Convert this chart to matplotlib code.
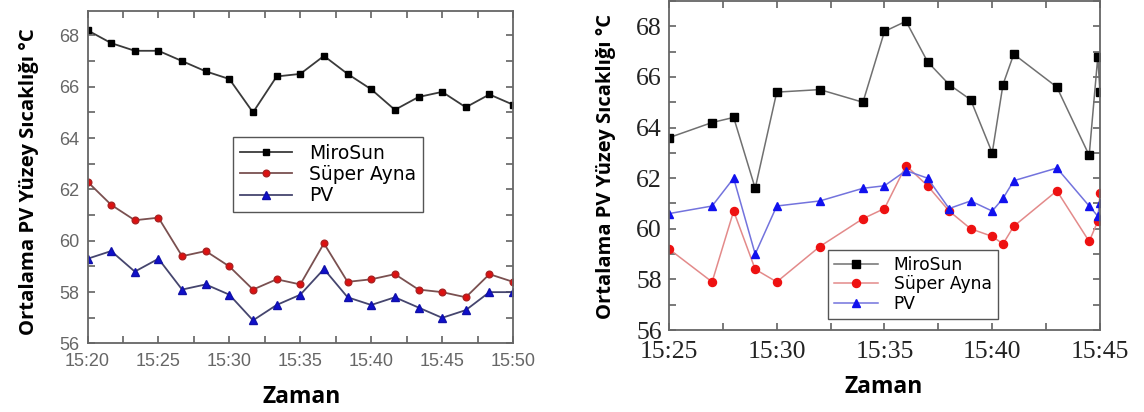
"""Two panels of mean PV surface temperature over time (MiroSun, Super Ayna, PV)."""
import pandas as pd
import matplotlib
matplotlib.use("Agg")
import matplotlib.pyplot as plt
from matplotlib.ticker import MultipleLocator, FuncFormatter

# left panel: readings every 100 s
LEFT_TIMES = ["15:20:00", "15:21:40", "15:23:20", "15:25:00", "15:26:40", "15:28:20",
              "15:30:00", "15:31:40", "15:33:20", "15:35:00", "15:36:40", "15:38:20",
              "15:40:00", "15:41:40", "15:43:20", "15:45:00", "15:46:40", "15:48:20",
              "15:50:00"]
LEFT_MIROSUN = [68.2, 67.7, 67.4, 67.4, 67.0, 66.6, 66.3, 65.0, 66.4, 66.5,
                67.2, 66.5, 65.9, 65.1, 65.6, 65.8, 65.2, 65.7, 65.3]
LEFT_SUPER = [62.3, 61.4, 60.8, 60.9, 59.4, 59.6, 59.0, 58.1, 58.5, 58.3,
              59.9, 58.4, 58.5, 58.7, 58.1, 58.0, 57.8, 58.7, 58.4]
LEFT_PV = [59.3, 59.6, 58.8, 59.3, 58.1, 58.3, 57.9, 56.9, 57.5, 57.9,
           58.9, 57.8, 57.5, 57.8, 57.4, 57.0, 57.3, 58.0, 58.0]

# right panel: irregular readings
RIGHT_TIMES = ["15:25:00", "15:27:00", "15:28:00", "15:29:00", "15:30:00", "15:32:00",
               "15:34:00", "15:35:00", "15:36:00", "15:37:00", "15:38:00", "15:39:00",
               "15:40:00", "15:40:30", "15:41:00", "15:43:00", "15:44:30", "15:44:54",
               "15:45:00"]
RIGHT_MIROSUN = [63.6, 64.2, 64.4, 61.6, 65.4, 65.5, 65.0, 67.8, 68.2, 66.6,
                 65.7, 65.1, 63.0, 65.7, 66.9, 65.6, 62.9, 66.8, 65.4]
RIGHT_SUPER = [59.2, 57.9, 60.7, 58.4, 57.9, 59.3, 60.4, 60.8, 62.5, 61.7,
               60.7, 60.0, 59.7, 59.4, 60.1, 61.5, 59.5, 60.3, 61.4]
RIGHT_PV = [60.6, 60.9, 62.0, 59.0, 60.9, 61.1, 61.6, 61.7, 62.3, 62.0,
            60.8, 61.1, 60.7, 61.2, 61.9, 62.4, 60.9, 60.5, 61.0]

LABELS = ["MiroSun", "Süper Ayna", "PV"]
YLABEL = "Ortalama PV Yüzey Sıcaklığı °C"
XLABEL = "Zaman"


def to_minutes(times):
    """Minutes after 15:00."""
    return (pd.to_timedelta(times).total_seconds() / 60.0 - 15 * 60).tolist()


def hhmm(value, pos):
    """Tick label like 15:25."""
    return "15:%02d" % int(round(value))


def style_axes(ax, tick_color, font, size, xpad, ypad):
    """Inward ticks on every side, gray frame."""
    for spine in ax.spines.values():
        spine.set_color("#666666")
        spine.set_linewidth(1.3)
    ax.xaxis.set_major_locator(MultipleLocator(5))
    ax.xaxis.set_minor_locator(MultipleLocator(2.5))
    ax.yaxis.set_major_locator(MultipleLocator(2))
    ax.yaxis.set_minor_locator(MultipleLocator(1))
    ax.xaxis.set_major_formatter(FuncFormatter(hhmm))
    ax.tick_params(which="both", direction="in", top=True, right=True,
                   color="#555555", width=1.1, length=5)
    ax.tick_params(which="major", labelsize=size, labelcolor=tick_color)
    ax.tick_params(axis="x", which="major", pad=xpad)
    ax.tick_params(axis="y", which="major", pad=ypad)
    for lab in ax.get_xticklabels() + ax.get_yticklabels():
        lab.set_fontfamily(font)


fig = plt.figure(figsize=(11.44, 4.12), dpi=100)
ax1 = fig.add_axes([0.0765, 0.1663, 0.372, 0.807])
ax2 = fig.add_axes([0.5848, 0.199, 0.3767, 0.7985])

# left panel
x1 = to_minutes(LEFT_TIMES)
ax1.plot(x1, LEFT_MIROSUN, color="#3a3a3a", lw=1.3, marker="s", ms=4.3,
         mfc="black", mec="black", label=LABELS[0])
ax1.plot(x1, LEFT_SUPER, color="#7a5050", lw=1.3, marker="o", ms=4.8,
         mfc="#dd1111", mec="#aa2222", label=LABELS[1])
ax1.plot(x1, LEFT_PV, color="#45456e", lw=1.3, marker="^", ms=6,
         mfc="#1010cc", mec="#1010aa", label=LABELS[2])
ax1.set_xlim(20, 50)
ax1.set_ylim(56, 68.95)
style_axes(ax1, "#666666", "Liberation Sans", 13, 7, 6)
leg1 = ax1.legend(loc="upper left", bbox_to_anchor=(0.342, 0.621), borderaxespad=0,
                  fancybox=False, edgecolor="#555555", framealpha=1,
                  handlelength=2.8, borderpad=0.35, labelspacing=0.12,
                  handletextpad=0.9, prop={"family": "DejaVu Sans", "size": 13.5})
leg1.get_frame().set_linewidth(1.0)

# right panel
x2 = to_minutes(RIGHT_TIMES)
ax2.plot(x2, RIGHT_MIROSUN, color="#707070", lw=1.1, marker="s", ms=5.3,
         mfc="black", mec="black", label=LABELS[0])
ax2.plot(x2, RIGHT_SUPER, color="#e38a8a", lw=1.1, marker="o", ms=5.8,
         mfc="#ee1111", mec="#ee1111", label=LABELS[1])
ax2.plot(x2, RIGHT_PV, color="#7373dd", lw=1.1, marker="^", ms=6.2,
         mfc="#1111ee", mec="#1111ee", label=LABELS[2])
ax2.set_xlim(25, 45)
ax2.set_ylim(56, 69)
style_axes(ax2, "#222222", "Liberation Serif", 18.5, 8, 5)
leg2 = ax2.legend(loc="lower left", bbox_to_anchor=(0.369, 0.0334), borderaxespad=0,
                  fancybox=False, edgecolor="#555555", framealpha=1,
                  handlelength=2.6, borderpad=0.35, labelspacing=0.1,
                  handletextpad=0.9, prop={"family": "DejaVu Sans", "size": 12.3})
leg2.get_frame().set_linewidth(1.0)

for ax, ysize, lx, ly, xx, xy in [(ax1, 14.6, -0.114, 0.486, 0.504, -0.125),
                                  (ax2, 14.5, -0.123, 0.497, 0.498, -0.137)]:
    ax.set_ylabel(YLABEL, fontfamily="Open Sans", fontweight="bold", fontsize=ysize)
    ax.yaxis.set_label_coords(lx, ly)
    ax.set_xlabel(XLABEL, fontfamily="Open Sans", fontweight="bold", fontsize=16.5)
    ax.xaxis.set_label_coords(xx, xy)

fig.savefig("out.png", dpi=100)
